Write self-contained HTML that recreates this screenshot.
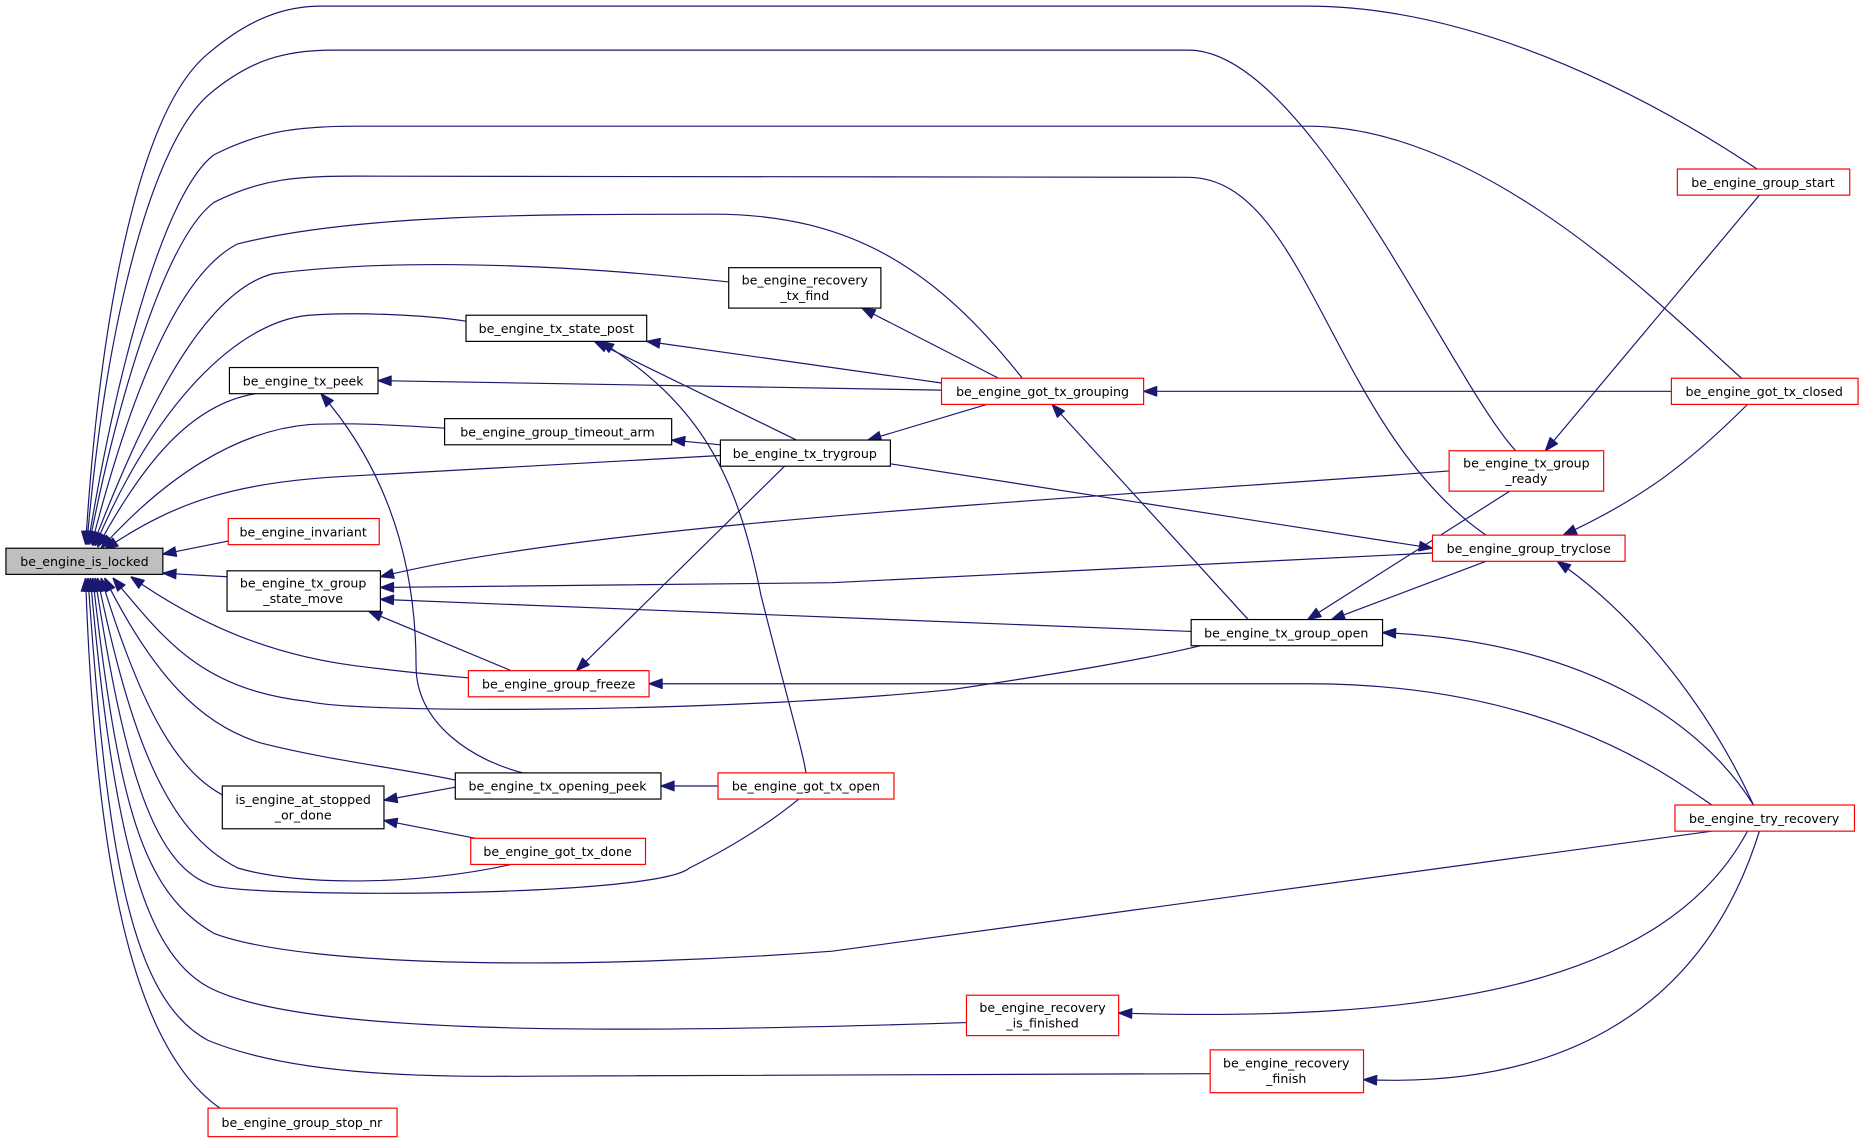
<!DOCTYPE html>
<html><head><meta charset="utf-8"><style>
html,body{margin:0;padding:0;background:#fff;}
svg{display:block}
text{font-family:"DejaVu Sans","Liberation Sans",sans-serif;font-size:10.6px;fill:#000;text-anchor:middle}
.e{fill:none;stroke:#191970;stroke-width:1}
.n{fill:#fff;stroke:#000;stroke-width:1}
.r{fill:#fff;stroke:#ff0000;stroke-width:1}
</style></head><body>
<svg width="1864" height="1144" viewBox="0 0 1568 962" xmlns="http://www.w3.org/2000/svg">
<defs><marker id="a" markerWidth="12" markerHeight="9" refX="0" refY="4.5" orient="auto" markerUnits="userSpaceOnUse"><path d="M0,4.5 L11,0.5 L11,8.5 z" fill="#191970" stroke="#191970" stroke-width="1"/></marker></defs>
<g marker-start="url(#a)">
<path class="e" d="M72,458 C85,250 120,90 175,45 C210,15 240,5 270,5 L1100,5 C1250,5 1400,90 1478,142"/>
<path class="e" d="M73,458 C90,260 130,120 175,80 C210,50 240,42 280,42 L1000,42 C1100,42 1220,320 1275,379"/>
<path class="e" d="M74,458 C100,300 140,160 180,130 C220,110 250,106 300,106 L1100,106 C1250,106 1400,260 1465,318"/>
<path class="e" d="M75,458 C100,330 140,200 180,170 C220,150 250,148 300,148 L1000,149 C1100,150 1120,360 1250,450"/>
<path class="e" d="M77,458 C110,330 150,230 200,205 C300,180 450,180 600,180 C720,180 790,230 860,318"/>
<path class="e" d="M78,459 C120,350 170,245 230,230 C350,215 500,225 613,237"/>
<path class="e" d="M80,459 C130,340 200,270 260,265 C300,262 360,265 392,270"/>
<path class="e" d="M82,460 C120,390 160,340 215,331"/>
<path class="e" d="M85,461 C140,400 200,362 260,357 C300,355 340,358 374,360"/>
<path class="e" d="M88,462 C150,420 200,405 300,400 L606,383"/>
<path class="e" d="M137,466 L192,455"/>
<path class="e" d="M137,482 L191,485"/>
<path class="e" d="M110,485 C160,520 220,550 300,560 C340,565 370,568 394,570"/>
<path class="e" d="M95,486 C140,540 170,580 260,590 C300,600 600,600 800,580 C900,565 960,555 1010,543"/>
<path class="e" d="M88,486 C130,570 170,610 220,625 C280,640 330,645 383,656"/>
<path class="e" d="M85,486 C120,600 150,650 190,670"/>
<path class="e" d="M82,486 C110,620 140,700 200,730 C250,745 350,745 430,727"/>
<path class="e" d="M80,486 C105,650 130,730 180,745 C220,755 550,755 580,730 C620,710 650,690 672,672"/>
<path class="e" d="M78,486 C100,680 120,750 180,785 C260,815 500,815 700,800 L1440,699"/>
<path class="e" d="M76,486 C95,700 120,800 175,830 C250,870 500,870 813,860"/>
<path class="e" d="M74,486 C90,720 110,840 175,875 C260,910 400,905 470,905 L1018,903"/>
<path class="e" d="M72,486 C80,720 110,880 185,932"/>
<path class="e" d="M544,287 L792,322"/>
<path class="e" d="M500,287 L670,370"/>
<path class="e" d="M505,287 C590,340 620,400 640,500 C660,580 675,630 678,650"/>
<path class="e" d="M725,259 L840,318"/>
<path class="e" d="M318,320 L792,328"/>
<path class="e" d="M270,331 C330,400 350,480 350,560 C350,610 400,640 440,650"/>
<path class="e" d="M565,370 L606,374"/>
<path class="e" d="M730,370 L830,340"/>
<path class="e" d="M485,564 L660,392" marker-start="url(#a)"/>
<path class="e" d="M962,329 L1406,329"/>
<path class="e" d="M885,340 L1050,521"/>
<path class="e" d="M1300,379 L1480,164"/>
<path class="e" d="M1100,521 L1270,413"/>
<path class="e" d="M1315,450 C1380,420 1420,390 1470,340"/>
<path class="e" d="M1205,461 L749,390"/>
<path class="e" d="M1120,521 L1250,472"/>
<path class="e" d="M1310,472 C1380,520 1440,600 1475,677"/>
<path class="e" d="M320,485 C500,440 900,420 1219,396"/>
<path class="e" d="M320,494 L700,490 L1205,465"/>
<path class="e" d="M320,504 L1002,531"/>
<path class="e" d="M310,514 L430,564"/>
<path class="e" d="M1163,532 C1350,540 1440,620 1475,677"/>
<path class="e" d="M546,575 L1100,575 C1300,575 1400,650 1440,677"/>
<path class="e" d="M556,661 L604,661"/>
<path class="e" d="M323,673 L383,662"/>
<path class="e" d="M323,690 L400,705"/>
<path class="e" d="M941,852 C1200,860 1400,830 1470,699"/>
<path class="e" d="M1147,908 C1300,915 1430,860 1480,699"/>
</g>
<g>
<rect x="5" y="461" width="132" height="22" fill="#bfbfbf" stroke="#000"/><text x="71" y="476">be_engine_is_locked</text>
<rect class="r" x="1411" y="142" width="145" height="22"/><text x="1483" y="157">be_engine_group_start</text>
<rect class="r" x="1406" y="318" width="157" height="22"/><text x="1484" y="333">be_engine_got_tx_closed</text>
<rect class="r" x="1219" y="379" width="130" height="34"/><text x="1284" y="393">be_engine_tx_group</text><text x="1284" y="406">_ready</text>
<rect class="r" x="1205" y="450" width="162" height="22"/><text x="1286" y="465">be_engine_group_tryclose</text>
<rect class="r" x="1409" y="677" width="151" height="22"/><text x="1484" y="692">be_engine_try_recovery</text>
<rect class="n" x="613" y="225" width="128" height="34"/><text x="677" y="239">be_engine_recovery</text><text x="677" y="252">_tx_find</text>
<rect class="n" x="392" y="265" width="152" height="22"/><text x="468" y="280">be_engine_tx_state_post</text>
<rect class="n" x="193" y="309" width="125" height="22"/><text x="255" y="324">be_engine_tx_peek</text>
<rect class="r" x="792" y="318" width="170" height="22"/><text x="877" y="333">be_engine_got_tx_grouping</text>
<rect class="n" x="374" y="352" width="191" height="22"/><text x="469" y="367">be_engine_group_timeout_arm</text>
<rect class="n" x="606" y="370" width="143" height="22"/><text x="677" y="385">be_engine_tx_trygroup</text>
<rect class="r" x="192" y="436" width="127" height="22"/><text x="255" y="451">be_engine_invariant</text>
<rect class="n" x="191" y="480" width="129" height="34"/><text x="255" y="494">be_engine_tx_group</text><text x="255" y="507">_state_move</text>
<rect class="n" x="1002" y="521" width="161" height="22"/><text x="1082" y="536">be_engine_tx_group_open</text>
<rect class="r" x="394" y="564" width="152" height="22"/><text x="470" y="579">be_engine_group_freeze</text>
<rect class="n" x="383" y="650" width="173" height="22"/><text x="469" y="665">be_engine_tx_opening_peek</text>
<rect class="r" x="604" y="650" width="148" height="22"/><text x="678" y="665">be_engine_got_tx_open</text>
<rect class="n" x="187" y="661" width="136" height="36"/><text x="255" y="676">is_engine_at_stopped</text><text x="255" y="689">_or_done</text>
<rect class="r" x="396" y="705" width="147" height="22"/><text x="469" y="720">be_engine_got_tx_done</text>
<rect class="r" x="813" y="837" width="128" height="34"/><text x="877" y="851">be_engine_recovery</text><text x="877" y="864">_is_finished</text>
<rect class="r" x="1018" y="883" width="129" height="36"/><text x="1082" y="898">be_engine_recovery</text><text x="1082" y="911">_finish</text>
<rect class="r" x="175" y="932" width="159" height="24"/><text x="254" y="948">be_engine_group_stop_nr</text>
</g>
</svg>
</body></html>
